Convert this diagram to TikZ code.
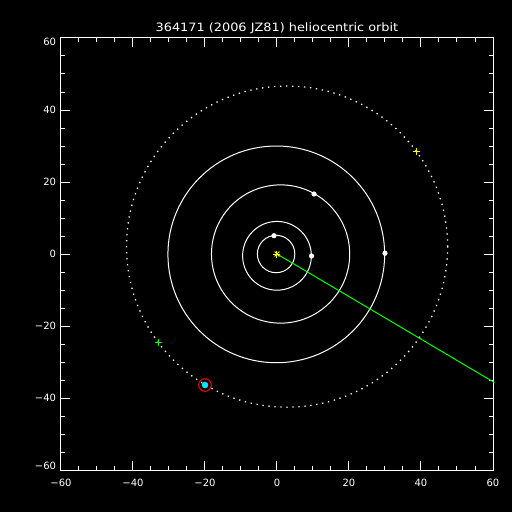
\documentclass[tikz,border=0pt]{standalone}
\usepackage{fontspec}
\setmainfont{DejaVu Sans}
\usetikzlibrary{positioning}
\definecolor{idlgreen}{RGB}{0,255,0}
\definecolor{idlyellow}{RGB}{255,255,0}
\definecolor{idlcyan}{RGB}{0,230,255}
\definecolor{idlred}{RGB}{255,0,0}
\tikzset{
  orbit/.style={white, line width=1pt},
  dotorbit/.style={white, line width=1.3pt, dash pattern=on 1.3pt off 4.7pt},
  planet/.style={circle, fill=white, inner sep=0pt, minimum size=5.2pt},
  spot/.style={inner sep=0pt, minimum size=0pt},
  ticklabel/.style={inner sep=0pt, font=\fontsize{10}{12}\selectfont},
}
\newcommand{\plusmark}[2]{\draw[#1] (#2) ++(-3.6pt,0) -- ++(7.2pt,0) (#2) ++(0,-3.6pt) -- ++(0,7.2pt);}
\newcommand{\axnum}[1]{\ifnum#1<0 −\number-#1\else#1\fi}

\begin{document}
\begin{tikzpicture}[x=3.6pt, y=3.6pt, white, line width=1pt]
    \path[use as bounding box, fill=black] (-277pt,-258pt) rectangle (235pt,254pt);

    \node[anchor=base, font=\fontsize{11.5}{13}\selectfont] (title) at (0,61.75) {\scalebox{1.12}[1]{364171 (2006 JZ81) heliocentric orbit}};

    \draw (-60,-60) rectangle (60,60);
    \foreach \t in {-55,-50,...,55} {
        \draw (\t,-60) -- ++(0,4.5pt) (\t,60) -- ++(0,-4.5pt);
        \draw (-60,\t) -- ++(4.5pt,0) (60,\t) -- ++(-4.5pt,0);
    }
    \foreach \t in {-40,-20,...,40} {
        \draw (\t,-60) -- ++(0,9pt) (\t,60) -- ++(0,-9pt);
        \draw (-60,\t) -- ++(9pt,0) (60,\t) -- ++(-9pt,0);
        \node[ticklabel, anchor=east] (yl\t) at ([xshift=-4.5pt]-60,\t) {\axnum{\t}};
    }
    \foreach \t in {-60,-40,...,60}
        \node[ticklabel, anchor=north] (xl\t) at ([yshift=-8.3pt]\t,-60) {\axnum{\t}};
    \node[ticklabel, anchor=north east] (ylt) at ([xshift=-4.5pt]-60,60) {60};
    \node[ticklabel, anchor=south east] (ylb) at ([xshift=-4.5pt]-60,-60) {\axnum{-60}};

    \draw[orbit] (-0.25,0) circle (5.2);
    \draw[orbit] (0,-0.5) circle (9.55);
    \draw[orbit] (1.0,0) circle (19.2);
    \draw[orbit] (-0.2,-0.1) circle (30.1);
    \draw[dotorbit] (2.8,2.05) circle (44.6);

    \node[spot] (sun) at (0,0) {};
    \coordinate (rim) at (60.4,-35.7);
    \draw[idlgreen] (sun.center) -- (rim);

    \node[planet] (jupiter) at (-0.83,5.08) {};
    \node[planet] (saturn) at (9.6,-0.55) {};
    \node[planet] (uranus) at (10.28,16.67) {};
    \node[planet] (neptune) at (30,0.2) {};

    \node[spot] (past) at (-32.86,-24.53) {};
    \node[spot] (future) at (38.7,28.5) {};
    \plusmark{idlgreen}{past}
    \plusmark{idlyellow}{future}

    \node[circle, fill=idlcyan, inner sep=0pt, minimum size=6.6pt] (body) at (-20,-36.4) {};
    \node[circle, draw=idlred, inner sep=0pt, minimum size=12.6pt] (ring) at (body) {};

    \foreach \a in {0,45,90,135}
        \draw[idlyellow] (sun.center) ++(\a:3.5pt) -- ++(\a+180:7pt);
\end{tikzpicture}
\end{document}
